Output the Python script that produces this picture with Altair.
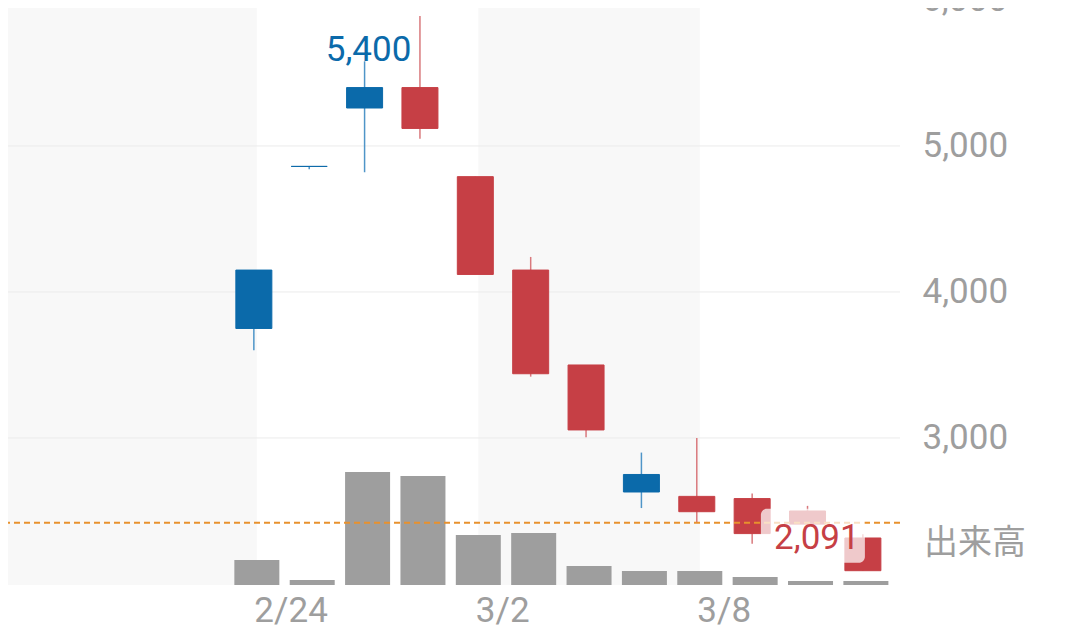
import altair as alt
import pandas as pd

# ---- data ----
dates = ["2/24", "2/25", "2/28", "3/1", "3/2", "3/3", "3/4", "3/7", "3/8", "3/9", "3/10", "3/11"]
opens = [3750, 4860, 5260, 5400, 4790, 4150, 3500, 2630, 2600, 2585, 2500, 2315]
highs = [4150, 4860, 5580, 5890, 4790, 4240, 3500, 2900, 3000, 2620, 2535, 2340]
lows = [3600, 4840, 4820, 5050, 4120, 3420, 3005, 2520, 2425, 2275, 2410, 2091]
closes = [4150, 4860, 5400, 5120, 4120, 3440, 3055, 2750, 2495, 2345, 2410, 2091]
volumes = [250, 50, 1130, 1090, 500, 520, 190, 140, 140, 80, 40, 40]
price_ticks = [3000, 4000, 5000, 6000]
date_ticks = [0, 4, 8]
ref_price = [2420]
shade_start = [-8, 4]
shade_end = [0, 8]
volume_label = "出来高"

# ---- styles ----
BLUE = "#0b6aaa"
RED = "#c63f45"
BLUE_WICK = "#4f95c8"
RED_WICK = "#d9797d"
GRAY = "#9e9e9e"
ORANGE = "#e8912d"
SHADE = "#f8f8f8"
GRID = "#ebebeb"
FONT = "Roboto"

XDOM = [-4.35, 11.58]
YDOM = [1993, 5945]
VDOM = [0, 5770]

df = pd.DataFrame({
    "idx": list(range(len(dates))),
    "date": dates,
    "open": opens,
    "high": highs,
    "low": lows,
    "close": closes,
    "volume": volumes,
})
hi_row = df.loc[[df["close"].idxmax()]]
lo_row = df.loc[[df["close"].idxmin()]]

shade_df = pd.DataFrame({"s": shade_start, "e": shade_end})
grid_df = pd.DataFrame({"p": price_ticks})
top_tick_df = pd.DataFrame({"p": [t for t in price_ticks if t > YDOM[1]]})
ref_df = pd.DataFrame({"p": ref_price})
vlabel_df = pd.DataFrame({"t": [volume_label]})

label_expr = "[" + ",".join(f"'{d}'" for d in dates) + "][datum.value]"
xscale = alt.Scale(domain=XDOM, nice=False, zero=False)
xaxis = alt.Axis(values=date_ticks, labelExpr=label_expr, labelAlign="left",
                 labelFontSize=35, labelColor=GRAY, labelFont=FONT, ticks=False,
                 domain=False, grid=False, labelPadding=8, labelFlush=False)
X = alt.X("idx:Q", scale=xscale, axis=xaxis, title=None)
yscale = alt.Scale(domain=YDOM, nice=False, zero=False)
up = "datum.close >= datum.open"

shades = alt.Chart(shade_df).mark_rect(color=SHADE, xOffset=3, x2Offset=3, clip=True).encode(
    x=alt.X("s:Q", scale=xscale, axis=xaxis, title=None),
    x2="e:Q",
)

grid = alt.Chart(grid_df).mark_rule(color=GRID, strokeWidth=1).encode(
    y=alt.Y("p:Q", scale=yscale, title=None,
            axis=alt.Axis(orient="right", values=price_ticks, format=",d", labelFontSize=35,
                          labelColor=GRAY, labelFont=FONT, ticks=False, domain=False,
                          grid=False, labelPadding=22)),
)

# partially visible tick label above the top edge (as in the reference)
top_tick = alt.Chart(top_tick_df).mark_text(fontSize=35, font=FONT, color=GRAY,
                                            align="left", baseline="middle").encode(
    x=alt.value(914),
    y=alt.Y("p:Q", scale=yscale, axis=None),
    text=alt.Text("p:Q", format=",d"),
)

vol = alt.Chart(df).mark_bar(size=45, xOffset=3, color=GRAY).encode(
    x=X,
    y=alt.Y("volume:Q", scale=alt.Scale(domain=VDOM, nice=False), axis=None),
)

wicks = alt.Chart(df).mark_rule(strokeWidth=1.5).encode(
    x=X,
    y=alt.Y("low:Q", scale=yscale, axis=None),
    y2="high:Q",
    color=alt.condition(up, alt.value(BLUE_WICK), alt.value(RED_WICK)),
)

bodies = alt.Chart(df).mark_bar(size=36, strokeWidth=1).encode(
    x=X,
    y=alt.Y("open:Q", scale=yscale, axis=None),
    y2="close:Q",
    color=alt.condition(up, alt.value(BLUE), alt.value(RED)),
    stroke=alt.condition(up, alt.value(BLUE), alt.value(RED)),
)

ref = alt.Chart(ref_df).mark_rule(color=ORANGE, strokeWidth=2, strokeDash=[6, 4]).encode(
    y=alt.Y("p:Q", scale=yscale, axis=None),
)

box = alt.Chart(lo_row).mark_rect(color="white", opacity=0.72, cornerRadius=6,
                                  xOffset=-102, x2Offset=2, yOffset=-62, y2Offset=-8).encode(
    x=X,
    x2="idx:Q",
    y=alt.Y("close:Q", scale=yscale, axis=None),
    y2="close:Q",
)

hi_text = alt.Chart(hi_row).mark_text(fontSize=35, font=FONT, color=BLUE, dx=4, dy=-37.5,
                                      baseline="middle").encode(
    x=X,
    y=alt.Y("close:Q", scale=yscale, axis=None),
    text=alt.Text("close:Q", format=","),
)

lo_text = alt.Chart(lo_row).mark_text(fontSize=35, font=FONT, color=RED, dx=-46, dy=-33,
                                      baseline="middle").encode(
    x=X,
    y=alt.Y("close:Q", scale=yscale, axis=None),
    text=alt.Text("close:Q", format=","),
)

vlabel = alt.Chart(vlabel_df).mark_text(fontSize=34, font="Noto Sans CJK JP", color=GRAY,
                                        align="left", baseline="middle").encode(
    x=alt.value(916),
    y=alt.value(536),
    text="t:N",
)

chart = alt.layer(
    shades, grid, top_tick, vol, wicks, bodies, ref, box, hi_text, lo_text, vlabel
).resolve_scale(y="independent").properties(
    width=892,
    height=577,
    autosize=alt.AutoSizeParams(type="none"),
    padding={"left": 0, "top": 0, "right": 172, "bottom": 47},
    background="white",
).configure_view(stroke=None)

chart.save("out.html", embed_options={"renderer": "svg", "actions": False})
